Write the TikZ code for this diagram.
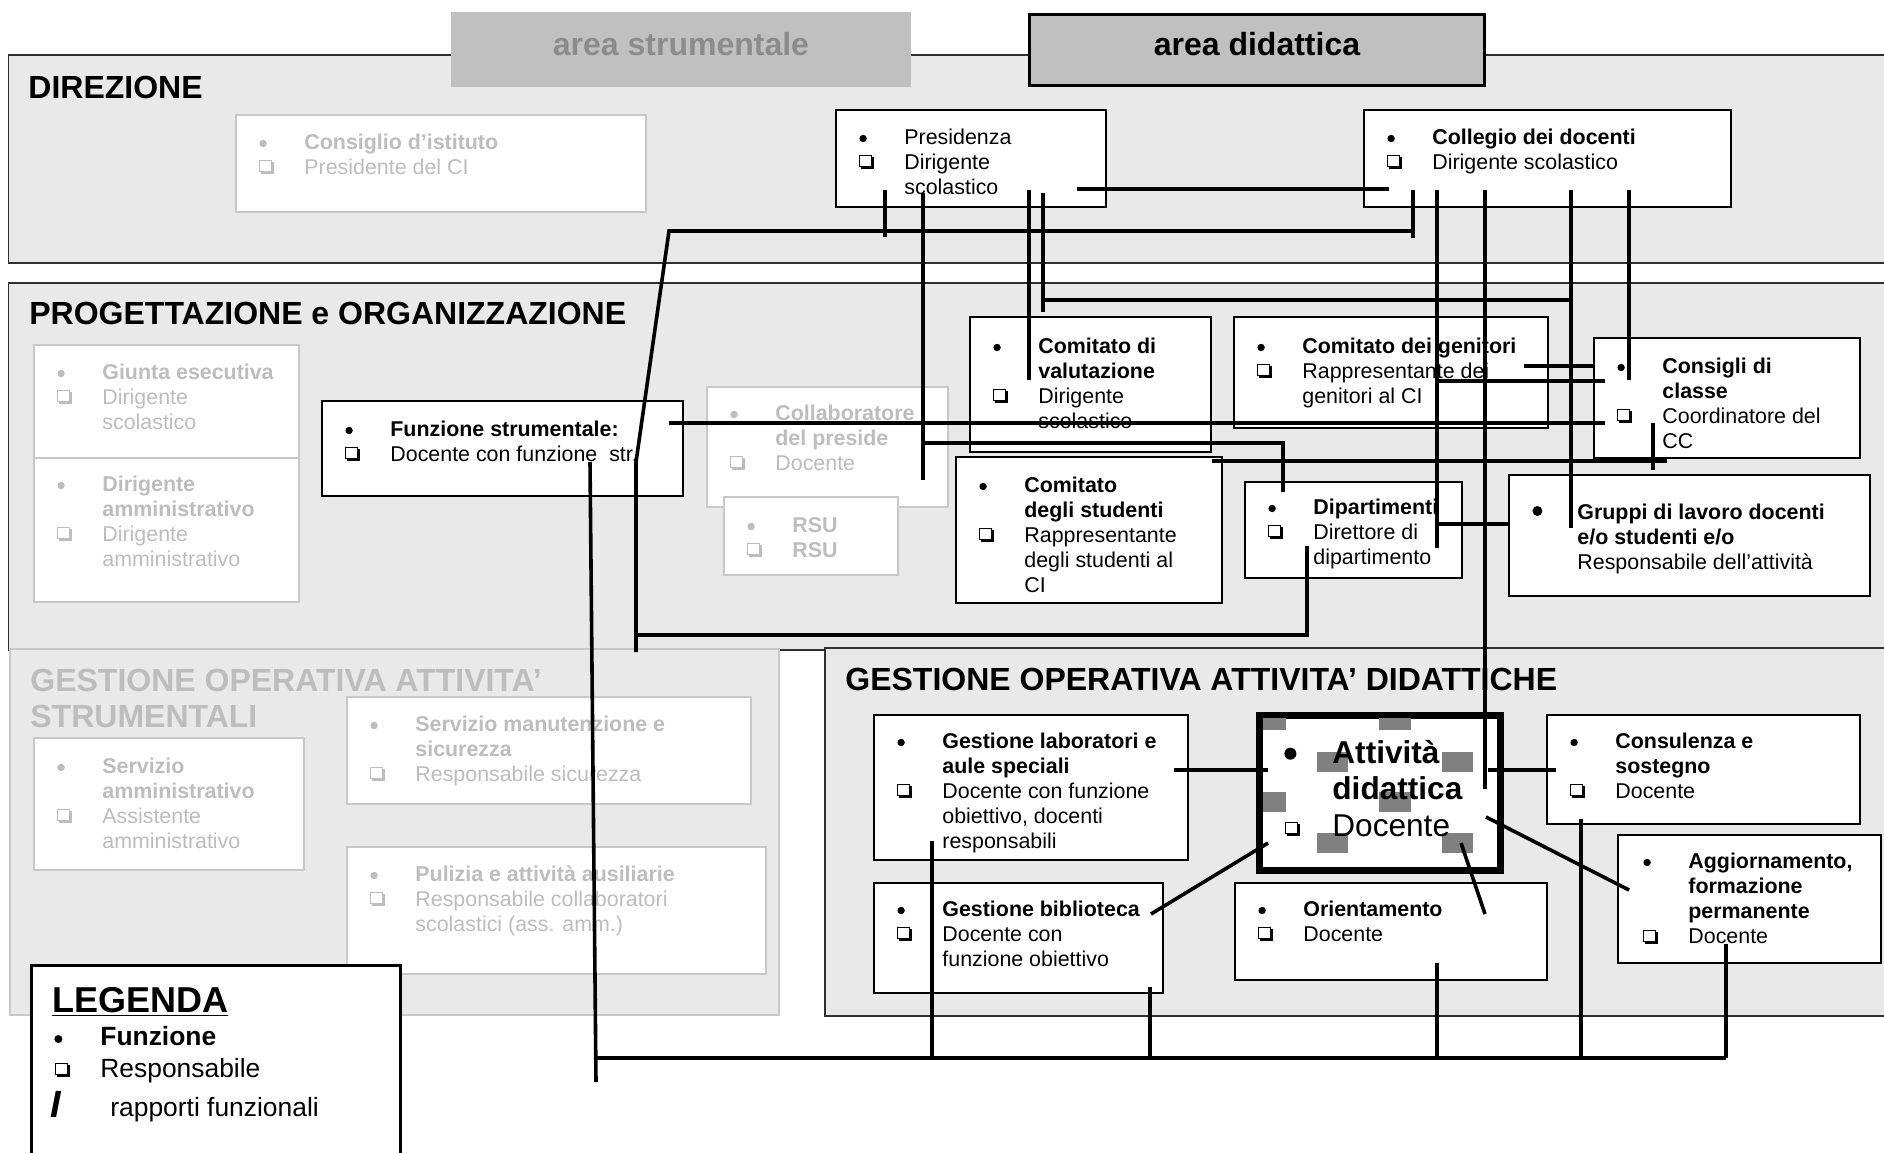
\documentclass[tikz,border=0pt]{standalone}
\usepackage{fontspec}
\usepackage{pict2e}
\setmainfont{Liberation Sans}
\usetikzlibrary{fit}
\setlength{\unitlength}{1pt}
\definecolor{bandgray}{HTML}{E9E9E9}
\definecolor{bandline}{HTML}{303030}
\definecolor{lgline}{HTML}{C8C8C8}
\definecolor{lgtext}{HTML}{BDBDBD}
\definecolor{areagray}{HTML}{C0C0C0}
\definecolor{areatext}{HTML}{8C8C8C}
\definecolor{handlegray}{HTML}{808080}
% bullet: "Funzione"
\newcommand\blt{\begin{picture}(6,0)\put(2.6,2.75){\circle*{3.7}}\end{picture}}
\newcommand\bigblt[4]{\begin{picture}(6,0)\put(#1,#2){\circle*{#3}}\end{picture}}
% shadowed square: "Responsabile"
\newcommand\sqshape{%
  \put(0,1){\rule{6.5pt}{0.5pt}}%
  \put(0,6.5){\rule{6.5pt}{0.5pt}}%
  \put(0,1){\rule{0.5pt}{6pt}}%
  \put(6,1){\rule{0.5pt}{6pt}}%
  \put(6.5,0){\rule{1pt}{6pt}}%
  \put(1,0){\rule{6.5pt}{1pt}}}
\newcommand\sqb{\begin{picture}(8,0)\put(0.75,0){\sqshape}\end{picture}}
\newcommand\boxfont{\fontsize{10.7}{12.6}\selectfont}
\newcommand\ent[4]{\node[txt,#3] (#1) at (#2) {\begin{tabular}[t]{@{}p{23.25pt}@{}l@{}}#4\end{tabular}};}
\newcommand\bx[6]{\node[#2, fit={(#3,#4) (#5,#6)}, inner sep=0pt] (#1) {};}
\tikzset{
  band/.style={fill=bandgray, draw=bandline, line width=0.8pt},
  gband/.style={fill=bandgray, draw=lgline, line width=1pt},
  wbox/.style={fill=white, draw=black, line width=1pt},
  gbox/.style={fill=white, draw=lgline, line width=1pt},
  attbox/.style={fill=white, draw=black, line width=3.5pt},
  legbox/.style={fill=white, draw=black, line width=1.5pt},
  conn/.style={draw=black, line width=1.8pt},
  txt/.style={anchor=base west, inner sep=0pt, font=\boxfont, yshift=-0.5pt},
  gtxt/.style={text=lgtext},
  title/.style={anchor=base west, inner sep=0pt, font=\fontsize{16}{18}\selectfont\bfseries, yshift=-0.75pt},
  handle/.style={fill=handlegray},
}
\begin{document}
\begin{tikzpicture}[x=0.5pt, y=-0.5pt]
\useasboundingbox (0,0) rectangle (1884,1152);
\clip (0,0) rectangle (1884,1152);
\fill[white] (0,0) rectangle (1884,1152);

% bands
\bx{direzione}{band}{8.5}{55}{1900}{263}
\bx{progett}{band}{8.5}{283}{1900}{650}
\bx{gestrum}{gband}{10}{649}{779}{1015}
\bx{gesdid}{band}{825}{648}{1900}{1016}

% area headers
\node[fill=areagray, fit={(451,12) (911,87)}, inner sep=0pt] (areas) {};
\node[anchor=base, inner sep=0pt, font=\fontsize{16}{18}\selectfont\bfseries, text=areatext] (areas-t) at (681,55) {area strumentale};
\node[fill=areagray, draw=black, line width=1.6pt, fit={(1029.5,14.5) (1484.5,85.5)}, inner sep=0pt] (aread) {};
\node[anchor=base, inner sep=0pt, font=\fontsize{16}{18}\selectfont\bfseries] (aread-t) at (1257,55) {area didattica};

% titles
\node[title] (t-dir) at (28,97) {DIREZIONE};
\node[title] (t-prog) at (29,323) {PROGETTAZIONE e ORGANIZZAZIONE};
\node[title, text=lgtext] (t-gs1) at (30,690) {GESTIONE OPERATIVA ATTIVITA’};
\node[title, text=lgtext] (t-gs2) at (30,726) {STRUMENTALI};
\node[title] (t-gd) at (845,689) {GESTIONE OPERATIVA ATTIVITA’ DIDATTICHE};

% grey (strumentale) boxes
\bx{consiglio}{gbox}{236}{115}{646}{212}
\ent{consiglio-t}{257.5,148}{gtxt}{\blt & \textbf{Consiglio d’istituto}\\ \sqb & Presidente del CI}
\bx{giunta}{gbox}{34}{345}{299}{458}
\ent{giunta-t}{55.5,378}{gtxt}{\blt & \textbf{Giunta esecutiva}\\ \sqb & Dirigente\\ & scolastico}
\bx{diramm}{gbox}{34}{458}{299}{602}
\ent{diramm-t}{55.5,490}{gtxt}{\blt & \textbf{Dirigente}\\ & \textbf{amministrativo}\\ \sqb & Dirigente\\ & amministrativo}
\bx{collab}{gbox}{707}{387}{948}{507}
\ent{collab-t}{728.5,419}{gtxt}{\blt & \textbf{Collaboratore}\\ & \textbf{del preside}\\ \sqb & Docente}
\bx{rsu}{gbox}{724}{497}{898}{575}
\ent{rsu-t}{745.5,531}{gtxt}{\blt & \textbf{RSU}\\ \sqb & \textbf{RSU}}
\bx{servamm}{gbox}{34}{738}{304}{870}
\ent{servamm-t}{55.5,772}{gtxt}{\blt & \textbf{Servizio}\\ & \textbf{amministrativo}\\ \sqb & Assistente\\ & amministrativo}
\bx{manut}{gbox}{347}{697}{751}{804}
\ent{manut-t}{368.5,730}{gtxt}{\blt & \textbf{Servizio manutenzione e}\\ & \textbf{sicurezza}\\ \sqb & Responsabile sicurezza}
\bx{pulizia}{gbox}{347}{847}{766}{974}
\ent{pulizia-t}{368.5,880}{gtxt}{\blt & \textbf{Pulizia e attività ausiliarie}\\ \sqb & Responsabile collaboratori\\ & scolastici (ass. amm.)}

% black boxes
\bx{pres}{wbox}{836}{110}{1106}{207}
\ent{pres-t}{857.5,143}{}{\blt & Presidenza\\ \sqb & Dirigente\\ & scolastico}
\bx{coll}{wbox}{1364}{110}{1731}{207}
\ent{coll-t}{1385.5,143}{}{\blt & \textbf{Collegio dei docenti}\\ \sqb & Dirigente scolastico}
\bx{funz}{wbox}{322}{401}{683}{496}
\ent{funz-t}{343.5,435}{}{\blt & \textbf{Funzione strumentale:}\\ \sqb & Docente con funzione\ \ str.}
\bx{comval}{wbox}{970}{317}{1211}{452}
\ent{comval-t}{991.5,352}{}{\blt & \textbf{Comitato di}\\ & \textbf{valutazione}\\ \sqb & Dirigente\\ & scolastico}
\bx{comgen}{wbox}{1234}{317}{1548}{428}
\ent{comgen-t}{1255.5,352}{}{\blt & \textbf{Comitato dei genitori}\\ \sqb & Rappresentante dei\\ & genitori al CI}
\bx{consigli}{wbox}{1594}{338}{1860}{458}
\ent{consigli-t}{1615.5,372}{}{\blt & \textbf{Consigli di}\\ & \textbf{classe}\\ \sqb & Coordinatore del\\ & CC}
\bx{comstud}{wbox}{956}{457}{1222}{603}
\ent{comstud-t}{977.5,491}{}{\blt & \textbf{Comitato}\\ & \textbf{degli studenti}\\ \sqb & Rappresentante\\ & degli studenti al\\ & CI}
\bx{dipart}{wbox}{1245}{482}{1462}{578}
\ent{dipart-t}{1266.5,513}{}{\blt & \textbf{Dipartimenti}\\ \sqb & Direttore di\\ & dipartimento}
\bx{gruppi}{wbox}{1509}{475}{1870}{596}
\ent{gruppi-t}{1530.5,518}{}{\bigblt{3.25}{4}{5}{} & \textbf{Gruppi di lavoro docenti}\\ & \textbf{e/o studenti e/o}\\ & Responsabile dell’attività}

% lower boxes
\bx{lab}{wbox}{874}{715}{1188}{860}
\ent{lab-t}{895.5,747}{}{\blt & \textbf{Gestione laboratori e}\\ & \textbf{aule speciali}\\ \sqb & Docente con funzione\\ & obiettivo, docenti\\ & responsabili}
\bx{att}{attbox}{1259}{715}{1500}{870}
\fill[handle] (1263,718) rectangle (1286,730);
\fill[handle] (1379,718) rectangle (1411,730);
\fill[handle] (1317,752) rectangle (1348,772);
\fill[handle] (1442,752) rectangle (1473,772);
\fill[handle] (1263,792) rectangle (1286,812);
\fill[handle] (1379,792) rectangle (1411,812);
\fill[handle] (1317,833) rectangle (1348,853);
\fill[handle] (1442,833) rectangle (1473,853);
\node[anchor=base west, inner sep=0pt, font=\fontsize{15.8}{18.3}\selectfont, yshift=-0.5pt] (att-t) at (1283,762) {\begin{tabular}[t]{@{}p{24.5pt}@{}l@{}}\bigblt{3.5}{4.65}{6}{} & \textbf{Attività}\\ & \textbf{didattica}\\ \begin{picture}(8,0)\put(1,0){\sqshape}\end{picture} & Docente\end{tabular}};
\bx{consul}{wbox}{1547}{715}{1860}{824}
\ent{consul-t}{1568.5,747}{}{\blt & \textbf{Consulenza e}\\ & \textbf{sostegno}\\ \sqb & Docente}
\bx{aggiorn}{wbox}{1618}{835}{1881}{963}
\ent{aggiorn-t}{1641.5,867}{}{\blt & \textbf{Aggiornamento,}\\ & \textbf{formazione}\\ & \textbf{permanente}\\ \sqb & Docente}
\bx{biblio}{wbox}{874}{883}{1163}{993}
\ent{biblio-t}{895.5,915}{}{\blt & \textbf{Gestione biblioteca}\\ \sqb & Docente con\\ & funzione obiettivo}
\bx{orient}{wbox}{1235}{883}{1547}{980}
\ent{orient-t}{1256.5,915}{}{\blt & \textbf{Orientamento}\\ \sqb & Docente}

% connectors (rapporti funzionali)
\draw[conn] (1077,189) -- (1389,189);
\draw[conn] (885,190) -- (885,237);
\draw[conn] (1413,190) -- (1413,238);
\draw[conn] (1413,231) -- (669,231) -- (636,462) -- (636,652);
\draw[conn] (923,193) -- (923,480);
\draw[conn] (923,443) -- (1283,443) -- (1283,492);
\draw[conn] (1029,190) -- (1029,380);
\draw[conn] (1043,193) -- (1043,312);
\draw[conn] (1043,300) -- (1571,300);
\draw[conn] (1437,190) -- (1437,548);
\draw[conn] (1437,381) -- (1605,381);
\draw[conn] (1437,524) -- (1508,524);
\draw[conn] (1485,190) -- (1485,789);
\draw[conn] (1571,190) -- (1571,528);
\draw[conn] (1629,190) -- (1629,380);
\draw[conn] (669,423) -- (1605,423);
\draw[conn] (1524,366) -- (1594,366);
\draw[conn] (1212,461) -- (1667,461);
\draw[conn] (1653,423) -- (1653,470);
\draw[conn] (1307,546) -- (1307,635) -- (636,635);
\draw[conn] (590,462) -- (596,1082);
\draw[conn] (1174,770) -- (1268,770);
\draw[conn] (1488,770) -- (1556,770);
\draw[conn] (1268,843) -- (1151,914);
\draw[conn] (1461,843) -- (1485,914);
\draw[conn] (1486,817) -- (1629,890);
\draw[conn] (932,841) -- (932,1058);
\draw[conn] (1150,987) -- (1150,1058);
\draw[conn] (1437,963) -- (1437,1058);
\draw[conn] (1581,819) -- (1581,1058);
\draw[conn] (1726,944) -- (1726,1058);
\draw[conn] (596,1058) -- (1726,1058);

% legend
\bx{legend}{legbox}{31}{965}{400}{1175}
\node[anchor=base west, inner sep=0pt, font=\fontsize{18}{20}\selectfont\bfseries] (leg-title) at (52,1012) {\underline{LEGENDA}};
\node[anchor=base west, inner sep=0pt] (leg-b) at (52.4,1045) {\bigblt{2.8}{3}{4}{}};
\node[anchor=base west, inner sep=0pt, font=\fontsize{13.2}{16}\selectfont\bfseries] (leg-bt) at (100,1045) {Funzione};
\node[anchor=base west, inner sep=0pt] (leg-s) at (55,1077) {\begin{picture}(8,0)\put(0,0){\sqshape}\end{picture}};
\node[anchor=base west, inner sep=0pt, font=\fontsize{13.2}{16}\selectfont] (leg-st) at (100,1077) {Responsabile};
\node[anchor=base west, inner sep=0pt, font=\fontsize{19}{20}\selectfont\bfseries\itshape] (leg-l) at (50,1117) {I};
\node[anchor=base west, inner sep=0pt, font=\fontsize{13.2}{16}\selectfont] (leg-lt) at (110,1116) {rapporti funzionali};
\end{tikzpicture}
\end{document}
